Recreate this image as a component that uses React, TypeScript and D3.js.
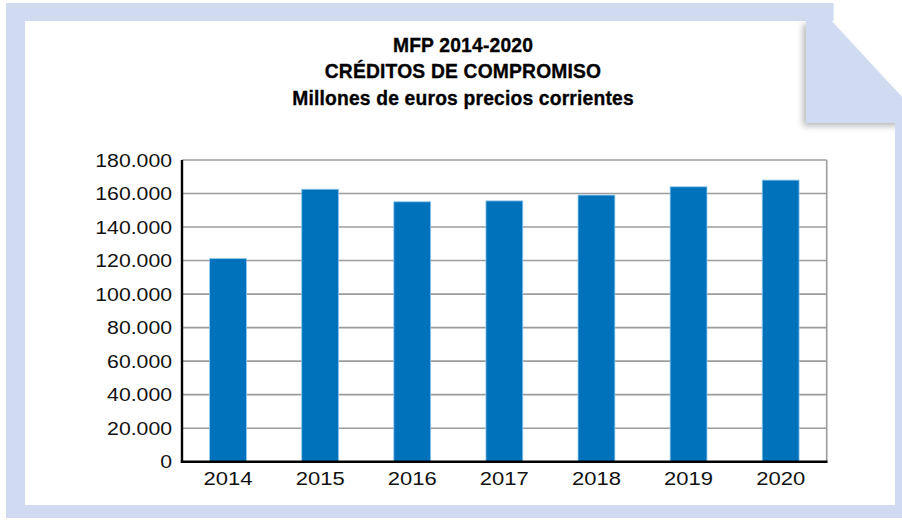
import React from "react";
import * as d3 from "d3";

const years = ["2014", "2015", "2016", "2017", "2018", "2019", "2020"];
const commitments = [121183, 162556, 155066, 155603, 159066, 164008, 168004];
const yTicks = [0, 20000, 40000, 60000, 80000, 100000, 120000, 140000, 160000, 180000];
const titleLines = ["MFP 2014-2020", "CRÉDITOS DE COMPROMISO", "Millones de euros precios corrientes"];

const W = 902;
const H = 520;
const plot = { left: 182, right: 826.7, top: 160, bottom: 461.7 };
const frameColor = "#d0dbf1";
const barColor = "#0071bb";

const fmt = (v: number) => (v === 0 ? "0" : d3.format(",")(v).replace(/,/g, "."));

export default function App() {
  const x = d3
    .scaleBand<string>()
    .domain(years)
    .range([plot.left, plot.right])
    .paddingInner(0.6)
    .paddingOuter(0.3);
  const y = d3.scaleLinear().domain([0, 180000]).range([plot.bottom, plot.top]);

  const diagX = (yy: number) => 815 + ((yy - 3) * 87) / 94;

  return (
    <svg
      width={W}
      height={H}
      style={{ position: "absolute", left: 0, top: 0, background: "#fff" }}
      fontFamily="'Liberation Sans', Arial, sans-serif"
    >
      <defs>
        <filter id="sh" x="-20%" y="-20%" width="140%" height="140%">
          <feDropShadow dx={-3} dy={3} stdDeviation={3} floodColor="#000" floodOpacity={0.28} />
        </filter>
      </defs>
      {/* frame */}
      <path d={`M6,3 L815,3 L902,97 L902,518 L6,518 Z`} fill={frameColor} />
      <rect x={25} y={21} width={870} height={484} fill="#fff" />
      {/* folded corner */}
      <path
        d={`M806,21 L806,123 L902,123 L902,97 L${diagX(21)},21 Z`}
        fill={frameColor}
        filter="url(#sh)"
      />
      <rect x={806} y={3} width={diagX(21) - 806 + 2} height={18} fill={frameColor} />
      <rect x={895} y={97} width={7} height={40} fill={frameColor} />

      {/* title */}
      {titleLines.map((t, i) => (
        <g key={t} transform={`translate(463,${51.5 + i * 26.5}) scale(0.94,1)`}>
          <text
            textAnchor="middle"
            fontWeight="bold"
            fontSize={20.5}
            fill="#000"
            stroke="#000"
            strokeWidth={0.35}
            letterSpacing={0.2}
          >
            {t}
          </text>
        </g>
      ))}

      {/* gridlines */}
      {yTicks
        .filter((v) => v > 0)
        .map((v) => (
          <line
            key={v}
            x1={plot.left}
            x2={plot.right}
            y1={y(v)}
            y2={y(v)}
            stroke="#9c9c9c"
            strokeWidth={1.6}
          />
        ))}
      <line x1={plot.right} x2={plot.right} y1={plot.top} y2={plot.bottom} stroke="#9c9c9c" strokeWidth={1.6} />

      {/* bars */}
      {years.map((yr, i) => (
        <rect
          key={yr}
          x={x(yr)}
          y={y(commitments[i])}
          width={x.bandwidth()}
          height={plot.bottom - y(commitments[i])}
          fill={barColor}
          stroke="#8fc8ee"
          strokeWidth={0.8}
        />
      ))}

      {/* axes */}
      <line x1={plot.left} x2={plot.left} y1={plot.top} y2={plot.bottom + 1.2} stroke="#000" strokeWidth={2.4} />
      <line x1={plot.left - 1.2} x2={plot.right + 0.8} y1={plot.bottom} y2={plot.bottom} stroke="#000" strokeWidth={2.4} />

      {/* y tick labels */}
      {yTicks.map((v) => (
        <g key={v} transform={`translate(${plot.left - 10},${y(v) + 6.5}) scale(1.18,1)`}>
          <text textAnchor="end" fontSize={18} fill="#111">
            {fmt(v)}
          </text>
        </g>
      ))}

      {/* x tick labels */}
      {years.map((yr) => (
        <g key={yr} transform={`translate(${(x(yr) as number) + x.bandwidth() / 2},${485}) scale(1.19,1)`}>
          <text textAnchor="middle" fontSize={18.5} fill="#111">
            {yr}
          </text>
        </g>
      ))}
    </svg>
  );
}
